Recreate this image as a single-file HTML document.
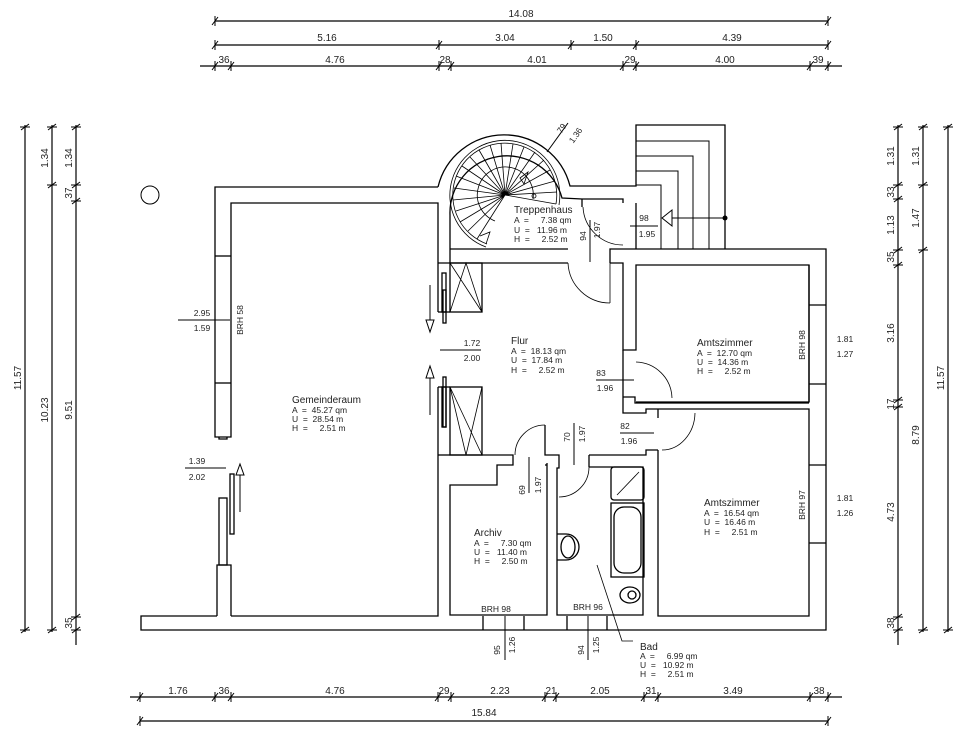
<!DOCTYPE html>
<html><head><meta charset="utf-8">
<style>
html,body{margin:0;padding:0;background:#fff;}
svg{display:block;}
text{font-family:"Liberation Sans",sans-serif;fill:#222;}
.d{font-size:10px;}
.s{font-size:8.5px;}
.r{font-size:10px;}
.pre text{white-space:pre;}
</style></head>
<body>
<svg width="977" height="748" viewBox="0 0 977 748" xmlns="http://www.w3.org/2000/svg">
<g stroke="#000" stroke-width="1.2" fill="none">
<line x1="215" y1="21" x2="828" y2="21"/>
<line x1="215" y1="45" x2="828" y2="45"/>
<line x1="200" y1="66" x2="842" y2="66"/>
<line x1="130" y1="697" x2="842" y2="697"/>
<line x1="140" y1="721" x2="828" y2="721"/>
<line x1="25" y1="125" x2="25" y2="632"/>
<line x1="52" y1="125" x2="52" y2="632"/>
<line x1="76" y1="125" x2="76" y2="645"/>
<line x1="898" y1="125" x2="898" y2="645"/>
<line x1="923" y1="125" x2="923" y2="632"/>
<line x1="948" y1="125" x2="948" y2="632"/>
</g>
<g stroke="#000" stroke-width="1" fill="none">
<path d="
M215,16v10M212,25l6,-8 M828,16v10M825,25l6,-8
M215,40v10M212,49l6,-8 M439,40v10M436,49l6,-8 M571,40v10M568,49l6,-8 M636,40v10M633,49l6,-8 M828,40v10M825,49l6,-8
M215,61v10M212,70l6,-8 M231,61v10M228,70l6,-8 M439,61v10M436,70l6,-8 M451,61v10M448,70l6,-8 M623,61v10M620,70l6,-8 M636,61v10M633,70l6,-8 M810,61v10M807,70l6,-8 M828,61v10M825,70l6,-8
M140,692v10M137,701l6,-8 M215,692v10M212,701l6,-8 M231,692v10M228,701l6,-8 M438,692v10M435,701l6,-8 M451,692v10M448,701l6,-8 M545,692v10M542,701l6,-8 M556,692v10M553,701l6,-8 M644,692v10M641,701l6,-8 M658,692v10M655,701l6,-8 M810,692v10M807,701l6,-8 M828,692v10M825,701l6,-8
M140,716v10M137,725l6,-8 M828,716v10M825,725l6,-8
"/>
<path d="
M20,127h10M21,130l8,-6 M20,630h10M21,633l8,-6
M47,127h10M48,130l8,-6 M47,185h10M48,188l8,-6 M47,630h10M48,633l8,-6
M71,127h10M72,130l8,-6 M71,185h10M72,188l8,-6 M71,201h10M72,204l8,-6 M71,617h10M72,620l8,-6 M71,630h10M72,633l8,-6
M893,127h10M894,130l8,-6 M893,185h10M894,188l8,-6 M893,199h10M894,202l8,-6 M893,250h10M894,253l8,-6 M893,265h10M894,268l8,-6 M893,400h10M894,403l8,-6 M893,407h10M894,410l8,-6 M893,617h10M894,620l8,-6 M893,630h10M894,633l8,-6
M918,127h10M919,130l8,-6 M918,185h10M919,188l8,-6 M918,250h10M919,253l8,-6 M918,630h10M919,633l8,-6
M943,127h10M944,130l8,-6 M943,630h10M944,633l8,-6
"/>
</g>

<g stroke="#000" stroke-width="1.3" fill="none">
<path d="M438,187 H215 V437 H231 V203 H438 V312"/>
<path d="M219,437 v2 h8 v-2"/>
<line x1="215" y1="256" x2="231" y2="256"/>
<line x1="215" y1="383" x2="231" y2="383"/>
<path d="M217,616 V565 H231 V616"/>
<rect x="219" y="498" width="8" height="67"/>
<rect x="230" y="474" width="4" height="60"/>
<path d="M217,616 H141 V630 H826 V249 H636"/>
<path d="M231,616 H438 V387"/>
<rect x="442" y="273" width="4" height="39"/>
<rect x="443" y="290" width="3" height="33"/>
<rect x="442" y="387" width="4" height="40"/>
<rect x="443" y="377" width="3" height="50"/>
<line x1="450" y1="249" x2="450" y2="263"/>
<line x1="438" y1="312" x2="450" y2="312"/>
<line x1="438" y1="387" x2="450" y2="387"/>
<rect x="450" y="263" width="32" height="49"/>
<path d="M450,312 L466,263 L482,312 M450,263 L482,312" stroke-width="0.8"/>
<rect x="450" y="387" width="32" height="68"/>
<path d="M450,387 L482,455 M482,387 L466,455 L450,387" stroke-width="0.8"/>
<line x1="438" y1="455" x2="450" y2="455"/>
<path d="M438,187 A68,68 0 0 1 570,186 H636 V125 H725 V249"/>
<path d="M450,249 V215 A57,57 0 0 1 562,198 L582,199 H623 V203"/>
<path d="M450,249 H568 M438,263 H568"/>
<path d="M610,263 H623 V350 H636 V265 H809 V402 H636 M610,263 V249 H636"/>
<path d="M610,263 V303 M610,303 A42,42 0 0 1 568,263" stroke-width="0.8"/>
<path d="M583,207 A40,40 0 0 0 623,245" stroke-width="0.8"/>
<path d="M582,199 V207"/>
<path d="M636,141 H709 V249 M636,156 H693 V249 M636,171 H678 V249 M636,185 H661 V249" stroke-width="1"/>
<line x1="636" y1="203" x2="636" y2="249"/>
<path d="M809,305 H826 M809,384 H826 M809,465 H826 M809,543 H826"/>
<line x1="809" y1="265" x2="809" y2="402"/>
<path d="M636,362 A37,37 0 0 1 672,398" stroke-width="0.8"/>
<path d="M623,350 V413 H646 V409 H809 V616 H658 V450"/>
<path d="M623,397 H635 V403 H809"/>
<path d="M695,413 A33,38 0 0 1 662,450" stroke-width="0.8"/>
<line x1="658" y1="409" x2="658" y2="418"/>
<path d="M589,455 H646 V450 H658"/>
<path d="M589,467 H643 V615 H557 V468 H559 V455 H545 V425"/>
<path d="M589,455 V467"/>
<path d="M589,467 A30,30 0 0 1 559,497" stroke-width="0.8"/>
<path d="M545,425 A30,30 0 0 0 515,455" stroke-width="0.8"/>
<path d="M450,455 H513 V465 H497 V485 H450 V615 H547 V463"/>
<line x1="545" y1="465" x2="547" y2="465"/>
<path d="M483,616 V630 M524,616 V630 M567,616 V630 M607,616 V630"/>
<rect x="611" y="467" width="33" height="33" rx="3"/>
<line x1="617" y1="495" x2="639" y2="472" stroke-width="0.8"/>
<rect x="611" y="503" width="33" height="74"/>
<rect x="614" y="507" width="27" height="66" rx="10"/>
<ellipse cx="630" cy="595" rx="10" ry="8"/>
<circle cx="632" cy="595" r="4"/>
<path d="M557,534 H566 A13,13 0 0 1 566,560 H557"/>
<ellipse cx="568" cy="547" rx="7" ry="11"/>
<path d="M597,565 L622,641 H633" stroke-width="0.8"/>
</g>

<g stroke="#000" stroke-width="0.8" fill="none">
<path d="M556,204 A52,52 0 1 0 487,244"/>
<path d="M559,205 A55,55 0 1 0 486,247"/>
<path d="M533,199 A28,28 0 1 0 495,221"/>
<path d="M505,195 L556,204 M505,195 L557,192 M505,195 L555,181 M505,195 L550,170 M505,195 L544,160 M505,195 L535,152 M505,195 L524,147 M505,195 L513,144 M505,195 L501,143 M505,195 L490,145 M505,195 L479,150 M505,195 L470,157 M505,195 L462,166 M505,195 L456,176 M505,195 L454,188 M505,195 L453,200 M505,195 L456,211 M505,195 L460,222 M505,195 L468,231 M505,195 L477,239"/>
<path d="M520,178 L528,172 L524,184 Z"/>
<circle cx="534" cy="196" r="2"/>
<path d="M480,236 L490,232 L486,244"/>
</g>

<g stroke="#000" stroke-width="1" fill="none">
<circle cx="150" cy="195" r="9"/>
<line x1="178" y1="320" x2="230" y2="320"/>
<line x1="185" y1="468" x2="226" y2="468"/>
<line x1="440" y1="350" x2="481" y2="350"/>
<line x1="596" y1="380" x2="634" y2="380"/>
<line x1="620" y1="433" x2="654" y2="433"/>
<line x1="630" y1="226" x2="658" y2="226"/>
<line x1="590" y1="220" x2="590" y2="262"/>
<line x1="574" y1="423" x2="574" y2="465"/>
<line x1="529" y1="457" x2="529" y2="493"/>
<line x1="505" y1="616" x2="505" y2="660"/>
<line x1="588" y1="616" x2="588" y2="660"/>
<line x1="547" y1="152" x2="568" y2="123"/>
<line x1="430" y1="285" x2="430" y2="320"/>
<path d="M426,320 L434,320 L430,332 Z"/>
<line x1="430" y1="378" x2="430" y2="415"/>
<path d="M426,378 L434,378 L430,366 Z"/>
<line x1="240" y1="475" x2="240" y2="512"/>
<path d="M236,475 L244,475 L240,464 Z"/>
<line x1="672" y1="218" x2="725" y2="218"/>
<path d="M662,218 L672,210 L672,226 Z"/>
</g>
<circle cx="725" cy="218" r="2.5" fill="#000"/>

<g class="d" text-anchor="middle">
<text x="521" y="17">14.08</text>
<text x="327" y="41">5.16</text><text x="505" y="41">3.04</text><text x="603" y="41">1.50</text><text x="732" y="41">4.39</text>
<text x="224" y="63">36</text><text x="335" y="63">4.76</text><text x="445" y="63">28</text><text x="537" y="63">4.01</text><text x="630" y="63">29</text><text x="725" y="63">4.00</text><text x="818" y="63">39</text>
<text x="178" y="694">1.76</text><text x="224" y="694">36</text><text x="335" y="694">4.76</text><text x="444" y="694">29</text><text x="500" y="694">2.23</text><text x="551" y="694">21</text><text x="600" y="694">2.05</text><text x="651" y="694">31</text><text x="733" y="694">3.49</text><text x="819" y="694">38</text>
<text x="484" y="716">15.84</text>
<text transform="translate(21,378) rotate(-90)">11.57</text>
<text transform="translate(48,158) rotate(-90)">1.34</text>
<text transform="translate(48,410) rotate(-90)">10.23</text>
<text transform="translate(72,158) rotate(-90)">1.34</text>
<text transform="translate(72,193) rotate(-90)">37</text>
<text transform="translate(72,410) rotate(-90)">9.51</text>
<text transform="translate(72,623) rotate(-90)">35</text>
<text transform="translate(894,156) rotate(-90)">1.31</text>
<text transform="translate(894,192) rotate(-90)">33</text>
<text transform="translate(894,225) rotate(-90)">1.13</text>
<text transform="translate(894,257) rotate(-90)">35</text>
<text transform="translate(894,333) rotate(-90)">3.16</text>
<text transform="translate(894,404) rotate(-90)">17</text>
<text transform="translate(894,512) rotate(-90)">4.73</text>
<text transform="translate(894,623) rotate(-90)">38</text>
<text transform="translate(919,156) rotate(-90)">1.31</text>
<text transform="translate(919,218) rotate(-90)">1.47</text>
<text transform="translate(919,435) rotate(-90)">8.79</text>
<text transform="translate(944,378) rotate(-90)">11.57</text>
</g>

<g class="s" text-anchor="middle">
<text x="202" y="316">2.95</text><text x="202" y="331">1.59</text>
<text x="197" y="464">1.39</text><text x="197" y="480">2.02</text>
<text x="472" y="346">1.72</text><text x="472" y="361">2.00</text>
<text x="601" y="376">83</text><text x="605" y="391">1.96</text>
<text x="625" y="429">82</text><text x="629" y="444">1.96</text>
<text x="644" y="221">98</text><text x="647" y="237">1.95</text>
<text x="496" y="612">BRH 98</text>
<text x="588" y="610">BRH 96</text>
<text transform="translate(243,320) rotate(-90)">BRH 58</text>
<text transform="translate(805,345) rotate(-90)">BRH 98</text>
<text transform="translate(805,505) rotate(-90)">BRH 97</text>
<text x="845" y="342">1.81</text><text x="845" y="357">1.27</text>
<text x="845" y="501">1.81</text><text x="845" y="516">1.26</text>
<text transform="translate(586,236) rotate(-90)">94</text>
<text transform="translate(600,230) rotate(-90)">1.97</text>
<text transform="translate(570,437) rotate(-90)">70</text>
<text transform="translate(585,434) rotate(-90)">1.97</text>
<text transform="translate(525,490) rotate(-90)">69</text>
<text transform="translate(541,485) rotate(-90)">1.97</text>
<text transform="translate(500,650) rotate(-90)">95</text>
<text transform="translate(515,645) rotate(-90)">1.26</text>
<text transform="translate(584,650) rotate(-90)">94</text>
<text transform="translate(599,645) rotate(-90)">1.25</text>
<text transform="translate(564,130) rotate(-55)">79</text>
<text transform="translate(578,137) rotate(-55)">1.36</text>
</g>

<g class="s pre">
<text class="r" x="292" y="403">Gemeinderaum</text>
<text x="292" y="413">A  =  45.27 qm</text>
<text x="292" y="422">U  =  28.54 m</text>
<text x="292" y="431">H  =     2.51 m</text>

<text class="r" x="514" y="213">Treppenhaus</text>
<text x="514" y="223">A  =     7.38 qm</text>
<text x="514" y="233">U  =   11.96 m</text>
<text x="514" y="242">H  =     2.52 m</text>

<text class="r" x="511" y="344">Flur</text>
<text x="511" y="354">A  =  18.13 qm</text>
<text x="511" y="363">U  =  17.84 m</text>
<text x="511" y="373">H  =     2.52 m</text>

<text class="r" x="697" y="346">Amtszimmer</text>
<text x="697" y="356">A  =  12.70 qm</text>
<text x="697" y="365">U  =  14.36 m</text>
<text x="697" y="374">H  =     2.52 m</text>

<text class="r" x="704" y="506">Amtszimmer</text>
<text x="704" y="516">A  =  16.54 qm</text>
<text x="704" y="525">U  =  16.46 m</text>
<text x="704" y="535">H  =     2.51 m</text>

<text class="r" x="474" y="536">Archiv</text>
<text x="474" y="546">A  =     7.30 qm</text>
<text x="474" y="555">U  =   11.40 m</text>
<text x="474" y="564">H  =     2.50 m</text>

<text class="r" x="640" y="650">Bad</text>
<text x="640" y="659">A  =     6.99 qm</text>
<text x="640" y="668">U  =   10.92 m</text>
<text x="640" y="677">H  =     2.51 m</text>
</g>
</svg>
</body></html>
